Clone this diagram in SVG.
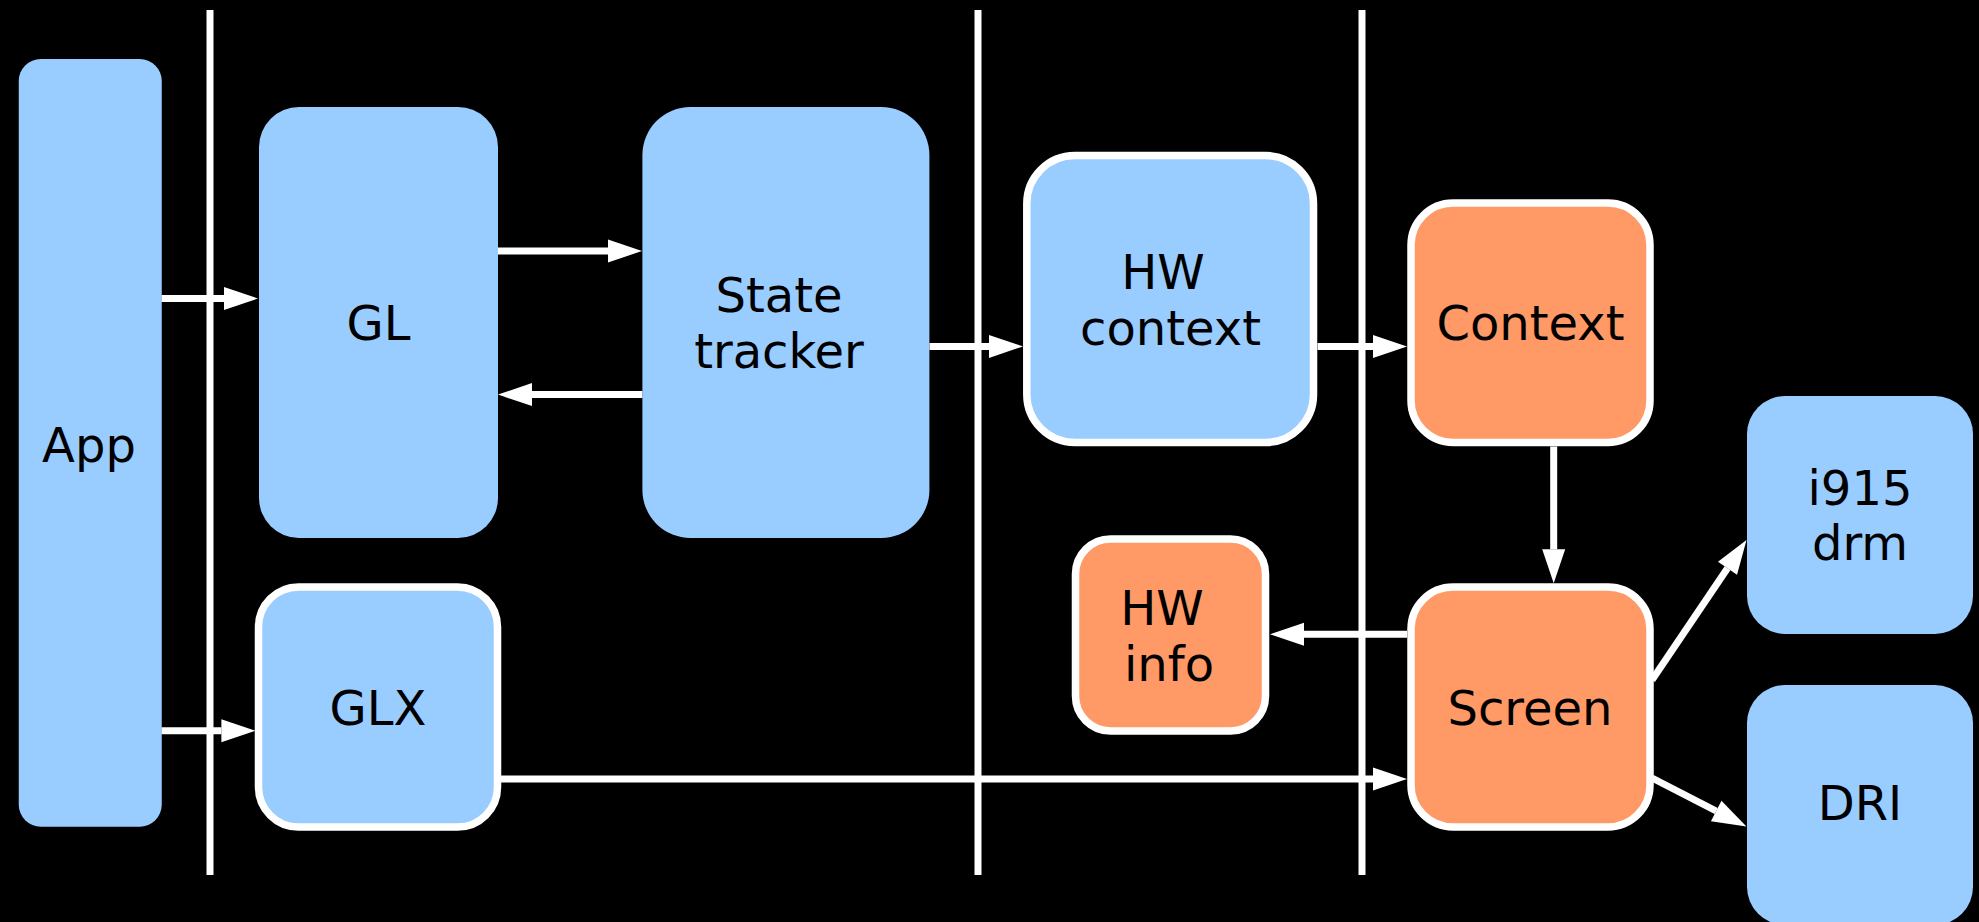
<svg xmlns="http://www.w3.org/2000/svg" width="1979" height="922" viewBox="0 0 1979 922">
<style>
.blue{fill:#99ccff}
.orange{fill:#ff9966}
.wb{stroke:#ffffff;stroke-width:7.5}
.lbl{font-family:"DejaVu Sans",sans-serif;font-size:48px;fill:#000000;text-anchor:middle}
.con{stroke:#ffffff;stroke-width:7;fill:none}
.sep{stroke:#ffffff;stroke-width:7}
</style>
<defs>
<marker id="ah" markerUnits="userSpaceOnUse" markerWidth="34" markerHeight="23" refX="0" refY="11.5" orient="auto" overflow="visible">
<path d="M0,0 L34,11.5 L0,23 z" fill="#ffffff"/>
</marker>
</defs>
<rect x="0" y="0" width="1979" height="922" fill="#000000"/>
<g id="separators">
<line class="sep" x1="210" y1="10" x2="210" y2="875"/>
<line class="sep" x1="978" y1="10" x2="978" y2="875"/>
<line class="sep" x1="1362" y1="10" x2="1362" y2="875"/>
</g>
<g id="app">
<rect class="blue" x="18.75" y="59" width="143" height="767.7" rx="22" ry="22"/>
<text class="lbl" x="89" y="461.5">App</text>
</g>
<g id="gl">
<rect class="blue" x="259" y="107" width="239" height="431" rx="40" ry="40"/>
<text class="lbl" x="378.5" y="340">GL</text>
</g>
<g id="state-tracker">
<rect class="blue" x="642.4" y="107" width="287" height="431" rx="48" ry="48"/>
<text class="lbl" x="779" y="312">State</text>
<text class="lbl" x="779" y="367.5">tracker</text>
</g>
<g id="hw-context">
<rect class="blue wb" x="1026.8" y="155.5" width="286.7" height="287" rx="48" ry="48"/>
<text class="lbl" x="1163" y="289">HW</text>
<text class="lbl" x="1170.5" y="345">context</text>
</g>
<g id="context">
<rect class="orange wb" x="1411" y="203" width="239" height="239.5" rx="42" ry="42"/>
<text class="lbl" x="1530.5" y="340">Context</text>
</g>
<g id="hw-info">
<rect class="orange wb" x="1075.5" y="539" width="190" height="192" rx="35" ry="35"/>
<text class="lbl" x="1162" y="624.5">HW</text>
<text class="lbl" x="1169" y="680.5">info</text>
</g>
<g id="glx">
<rect class="blue wb" x="258.5" y="587" width="239" height="240" rx="40" ry="40"/>
<text class="lbl" x="378" y="724.5">GLX</text>
</g>
<g id="screen">
<rect class="orange wb" x="1411" y="587" width="239" height="240" rx="42" ry="42"/>
<text class="lbl" x="1530" y="724.5">Screen</text>
</g>
<g id="i915-drm">
<rect class="blue" x="1747" y="396" width="226" height="238" rx="38" ry="38"/>
<text class="lbl" x="1860" y="505">i915</text>
<text class="lbl" x="1860" y="559.5">drm</text>
</g>
<g id="dri">
<rect class="blue" x="1747" y="685" width="226" height="240" rx="38" ry="38"/>
<text class="lbl" x="1860" y="819.5">DRI</text>
</g>
<g id="connectors">
<line class="con" x1="161.6" y1="298.5" x2="224" y2="298.5" marker-end="url(#ah)"/>
<line class="con" x1="161.6" y1="730.7" x2="221.4" y2="730.7" marker-end="url(#ah)"/>
<line class="con" x1="498" y1="251" x2="608" y2="251" marker-end="url(#ah)"/>
<line class="con" x1="642.4" y1="394.6" x2="532" y2="394.6" marker-end="url(#ah)"/>
<line class="con" x1="929.5" y1="346.4" x2="989" y2="346.4" marker-end="url(#ah)"/>
<line class="con" x1="1317.5" y1="346.4" x2="1373" y2="346.4" marker-end="url(#ah)"/>
<line class="con" x1="1553.7" y1="446.5" x2="1553.7" y2="549.3" marker-end="url(#ah)"/>
<line class="con" x1="1407" y1="634.3" x2="1304" y2="634.3" marker-end="url(#ah)"/>
<line class="con" x1="501" y1="779" x2="1373" y2="779" marker-end="url(#ah)"/>
<line class="con" x1="1652" y1="680" x2="1727.5" y2="568.2" marker-end="url(#ah)"/>
<line class="con" x1="1652" y1="778" x2="1716.2" y2="811" marker-end="url(#ah)"/>
</g>
</svg>
